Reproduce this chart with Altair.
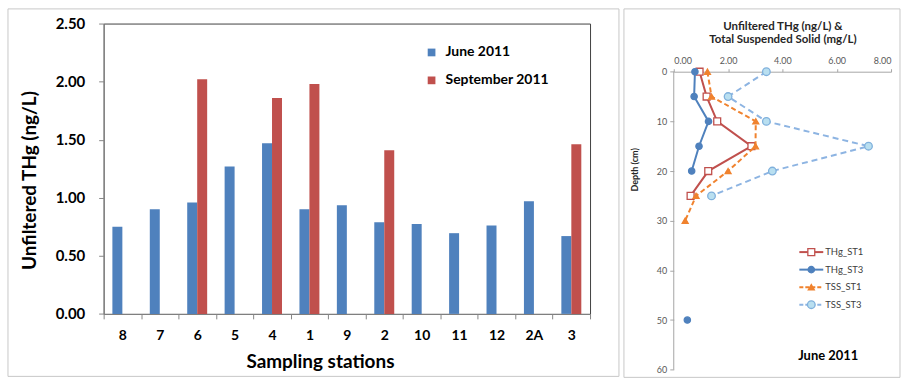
import altair as alt
import pandas as pd

FONT = "Lato"

# --- Unfiltered THg by sampling station (ng/L) ---
stations = ["8", "7", "6", "5", "4", "1", "9", "2", "10", "11", "12", "2A", "3"]
june_2011 = [0.75, 0.90, 0.96, 1.27, 1.47, 0.90, 0.935, 0.79, 0.775, 0.695, 0.76, 0.97, 0.67]
sept_2011 = [None, None, 2.02, None, 1.86, 1.98, None, 1.41, None, None, None, None, 1.46]
campaigns = ["June 2011", "September 2011"]
campaign_colors = ["#4F81BD", "#C0504D"]

# --- Depth profiles, June 2011 (THg in ng/L, TSS in mg/L) ---
depth_cm = [0, 5, 10, 15, 20, 25, 30, 35, 40, 45, 50]
thg_st1 = [0.95, 1.21, 1.60, 2.86, 1.27, 0.62, None, None, None, None, None]
thg_st3 = [0.78, 0.75, 1.28, 0.93, 0.66, None, None, None, None, None, 0.50]
tss_st1 = [1.24, 1.39, 3.02, 3.01, 2.00, 0.82, 0.42, None, None, None, None]
tss_st3 = [3.41, 2.00, 3.41, 7.17, 3.63, 1.39, None, None, None, None, None]
profile_names = ["THg_ST1", "THg_ST3", "TSS_ST1", "TSS_ST3"]
profile_values = [thg_st1, thg_st3, tss_st1, tss_st3]

profile_style = {
    "THg_ST1": dict(line="#C0504D", dash=None, shape="square", fill="white", stroke="#C0504D", size=48),
    "THg_ST3": dict(line="#4F81BD", dash=None, shape="circle", fill="#4F81BD", stroke="#4F81BD", size=40),
    "TSS_ST1": dict(line="#F0822E", dash=[5, 3], shape="triangle-up", fill="#F0822E", stroke="#F0822E", size=36),
    "TSS_ST3": dict(line="#8DB4E2", dash=[6, 4], shape="circle", fill="#B9DFF0", stroke="#7FB0DC", size=58),
}

one_row = pd.DataFrame({"k": [0]})

# ---------------- left panel: grouped bars ----------------
bar_rows = []
for s, j, p in zip(stations, june_2011, sept_2011):
    bar_rows.append({"station": s, "campaign": campaigns[0], "thg": j})
    if p is not None:
        bar_rows.append({"station": s, "campaign": campaigns[1], "thg": p})
bars_df = pd.DataFrame(bar_rows)

left_frame = alt.Chart(one_row).mark_rect(fillOpacity=0, stroke="#C8C8C8", strokeWidth=1).encode(
    x=alt.value(-96), x2=alt.value(517), y=alt.value(-14.7), y2=alt.value(354)
)

bars = alt.Chart(bars_df).mark_bar().encode(
    x=alt.X(
        "station:N",
        sort=stations,
        scale=alt.Scale(paddingInner=0, paddingOuter=0),
        axis=alt.Axis(
            title="Sampling stations",
            tickBand="extent",
            labelAngle=0,
            labelFont=FONT,
            labelFontSize=14,
            labelFontWeight="bold",
            labelColor="black",
            labelPadding=10,
            tickSize=5,
            tickColor="#868686",
            domainColor="#868686",
            titleFont=FONT,
            titleFontSize=19,
            titleFontWeight="bold",
            titleColor="black",
            titleX=217,
            titleY=39,
        ),
    ),
    xOffset=alt.XOffset(
        "campaign:N",
        scale=alt.Scale(domain=campaigns, paddingInner=0, paddingOuter=0.875),
    ),
    y=alt.Y(
        "thg:Q",
        scale=alt.Scale(domain=[0, 2.5], nice=False),
        axis=alt.Axis(
            values=[0, 0.5, 1.0, 1.5, 2.0, 2.5],
            format=".2f",
            grid=False,
            title="Unfiltered THg (ng/L)",
            labelFont=FONT,
            labelFontSize=15,
            labelFontWeight="bold",
            labelColor="black",
            labelPadding=14,
            tickSize=5,
            tickColor="#868686",
            domainColor="#868686",
            titleFont=FONT,
            titleFontSize=19,
            titleFontWeight="bold",
            titleColor="black",
            titleX=-64,
            titleY=157,
        ),
    ),
    color=alt.Color(
        "campaign:N",
        scale=alt.Scale(domain=campaigns, range=campaign_colors),
        legend=alt.Legend(
            title=None,
            orient="none",
            legendX=322,
            legendY=22,
            symbolType="square",
            symbolSize=60,
            symbolStrokeWidth=0,
            labelFont=FONT,
            labelFontSize=14,
            labelFontWeight="bold",
            labelColor="black",
            labelOffset=7,
            rowPadding=14,
            padding=0,
        ),
    ),
)

left = alt.layer(left_frame, bars).properties(
    width=488,
    height=291.3,
    view=alt.ViewBackground(stroke="#404040", strokeWidth=1),
)

# ---------------- right panel: depth profiles ----------------
# The panel shares its top edge with the bar panel; the depth scale starts a
# little above 0 cm so that the profile itself sits lower, under its title.
x_enc = alt.X(
    "value:Q",
    scale=alt.Scale(domain=[0, 8], nice=False, zero=False),
    axis=alt.Axis(
        orient="top",
        offset=-48.3,
        values=[0, 2, 4, 6, 8],
        format=".2f",
        grid=False,
        title=["Unfiltered THg (ng/L) &", "Total Suspended Solid (mg/L)"],
        titleFont=FONT,
        titleFontSize=11.5,
        titleFontWeight="bold",
        titleColor="#262626",
        titleLineHeight=13.5,
        titlePadding=12,
        labelFont=FONT,
        labelFontSize=9,
        labelColor="#595959",
        labelPadding=3,
        tickSize=3,
        tickColor="#A6A6A6",
        domainColor="#A6A6A6",
    ),
)
y_enc = alt.Y(
    "depth:Q",
    scale=alt.Scale(domain=[-9.7, 60], reverse=True, nice=False, zero=False),
    axis=alt.Axis(
        values=[0, 10, 20, 30, 40, 50, 60],
        format="d",
        grid=False,
        domain=False,
        title="Depth (cm)",
        titleFont=FONT,
        titleFontSize=9,
        titleFontWeight="bold",
        titleColor="#262626",
        titleX=-34,
        titleY=146.3,
        labelFont=FONT,
        labelFontSize=9,
        labelColor="#595959",
        labelPadding=3,
        tickSize=4,
        tickColor="#A6A6A6",
    ),
)

right_layers = [
    alt.Chart(one_row).mark_rect(fillOpacity=0, stroke="#C8C8C8", strokeWidth=1).encode(
        x=alt.value(-50), x2=alt.value(227), y=alt.value(-14.7), y2=alt.value(355)
    ),
    # depth axis line, 0 to 60 cm
    alt.Chart(one_row).mark_rule(color="#A6A6A6", strokeWidth=1).encode(
        x=alt.value(0), y=alt.Y(datum=0, scale=alt.Scale(domain=[-9.7, 60], reverse=True, nice=False, zero=False)),
        y2=alt.Y2(datum=60),
    ),
]

for name, vals in zip(profile_names, profile_values):
    st = profile_style[name]
    rows, seg = [], 0
    for d, v in zip(depth_cm, vals):
        if v is None:
            seg += 1
            continue
        rows.append({"series": name, "depth": d, "value": v, "segment": seg})
    df = pd.DataFrame(rows)
    line_kw = dict(color=st["line"], strokeWidth=2)
    if st["dash"]:
        line_kw["strokeDash"] = st["dash"]
    right_layers.append(
        alt.Chart(df).mark_line(**line_kw).encode(
            x=x_enc, y=y_enc, detail="segment:N", order="depth:Q"
        )
    )
    right_layers.append(
        alt.Chart(df).mark_point(
            shape=st["shape"], filled=True, fill=st["fill"], stroke=st["stroke"],
            strokeWidth=1.3, size=st["size"], opacity=1
        ).encode(x=x_enc, y=y_enc)
    )

# hand-drawn legend for the profile series
for i, name in enumerate(profile_names):
    st = profile_style[name]
    ypos = 229.3 + 17.6 * i
    entry = pd.DataFrame({"series": [name]})
    rule_kw = dict(color=st["line"], strokeWidth=2)
    if st["dash"]:
        rule_kw["strokeDash"] = [4, 2]
    right_layers.append(
        alt.Chart(entry).mark_rule(**rule_kw).encode(
            x=alt.value(126), x2=alt.value(150), y=alt.value(ypos)
        )
    )
    right_layers.append(
        alt.Chart(entry).mark_point(
            shape=st["shape"], filled=True, fill=st["fill"], stroke=st["stroke"],
            strokeWidth=1.3, size=st["size"], opacity=1
        ).encode(x=alt.value(138), y=alt.value(ypos))
    )
    right_layers.append(
        alt.Chart(entry).mark_text(
            align="left", baseline="middle", font=FONT, fontSize=9.5, color="#404040"
        ).encode(x=alt.value(152), y=alt.value(ypos), text="series:N")
    )

right_layers.append(
    alt.Chart(pd.DataFrame({"label": ["June 2011"]})).mark_text(
        align="center", baseline="middle", font=FONT, fontSize=13, fontWeight="bold", color="black"
    ).encode(x=alt.value(155), y=alt.value(333.3), text="label:N")
)

right = alt.layer(*right_layers).properties(width=218, height=347.3)

chart = (
    alt.hconcat(left, right, spacing=3)
    .properties(padding={"left": 7, "top": 7, "right": 0, "bottom": 0}, background="white")
    .configure_view(strokeWidth=0)
)

chart.save("out.html", embed_options={"renderer": "svg", "actions": False})
